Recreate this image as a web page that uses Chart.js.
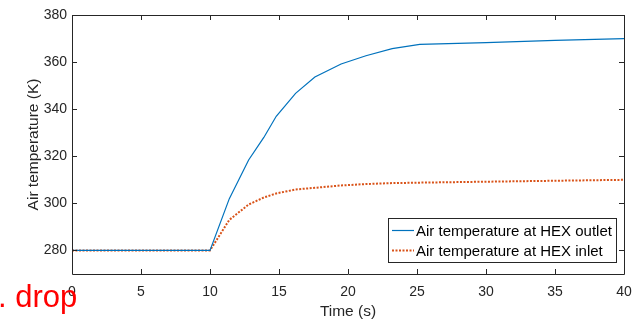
<!DOCTYPE html>
<html>
<head>
<meta charset="utf-8">
<script src="https://cdn.jsdelivr.net/npm/chart.js@4/dist/chart.umd.min.js"></script>
<style>
  body { margin: 0; background: #fff; }
  #wrap { position: relative; width: 639px; height: 321px; overflow: hidden; }
  #note { position: absolute; left: -2px; top: 281px; font: 31px/31px "Liberation Sans", Arial, sans-serif; color: #ff0000; white-space: nowrap; }
</style>
</head>
<body>
<div id="wrap">
  <canvas id="chart" width="639" height="321"></canvas>
  <div id="note">. drop</div>
</div>
<script>
// time points (s)
const timeSec = [0, 10, 11.4, 12.8, 13.9, 14.8, 16.2, 17.6, 19.5, 21.3, 23.2, 25.2, 30, 35, 40];
// air temperature (K)
const outletTemp = [280, 280, 302, 318.4, 328, 337, 346.7, 353.7, 359.2, 362.7, 365.7, 367.5, 368.3, 369.2, 370];
const inletTemp = [280, 280, 293, 299.5, 302.5, 304.2, 305.9, 306.6, 307.6, 308.2, 308.6, 308.8, 309.2, 309.6, 310];
const seriesLabels = ['Air temperature at HEX outlet', 'Air temperature at HEX inlet'];
const xTicks = [0, 5, 10, 15, 20, 25, 30, 35, 40];
const yTicks = [280, 300, 320, 340, 360, 380];

const axisColor = '#262626';
const fontFamily = '"Liberation Sans", Arial, sans-serif';

const toPoints = (xs, ys) => xs.map((x, i) => ({ x: x, y: ys[i] }));

// box around the plot with inward ticks, like MATLAB
const boxPlugin = {
  id: 'box',
  afterDatasetsDraw(chart) {
    const { ctx, chartArea: a, scales } = chart;
    const tl = 5;
    ctx.save();
    ctx.strokeStyle = axisColor;
    ctx.lineWidth = 1;
    ctx.beginPath();
    ctx.rect(a.left + 0.5, a.top + 0.5, a.right - a.left, a.bottom - a.top);
    xTicks.forEach(v => {
      const px = Math.round(scales.x.getPixelForValue(v)) + 0.5;
      ctx.moveTo(px, a.bottom); ctx.lineTo(px, a.bottom - tl);
      ctx.moveTo(px, a.top); ctx.lineTo(px, a.top + tl);
    });
    yTicks.forEach(v => {
      const py = Math.round(scales.y.getPixelForValue(v)) + 0.5;
      ctx.moveTo(a.left, py); ctx.lineTo(a.left + tl, py);
      ctx.moveTo(a.right, py); ctx.lineTo(a.right - tl, py);
    });
    ctx.stroke();
    ctx.restore();
  },
  afterDraw(chart) {
    // legend box in lower right of the plot
    const { ctx, chartArea: a } = chart;
    const w = 228, h = 44;
    const x0 = a.right - 8 - w, y0 = a.bottom - 12 - h;
    ctx.save();
    ctx.fillStyle = '#fff';
    ctx.fillRect(x0, y0, w, h);
    ctx.strokeStyle = '#262626';
    ctx.lineWidth = 1;
    ctx.strokeRect(x0 + 0.5, y0 + 0.5, w, h);
    ctx.font = '15px ' + fontFamily;
    ctx.textBaseline = 'middle';
    chart.data.datasets.forEach((ds, i) => {
      const y = y0 + 12.5 + i * 20;
      ctx.strokeStyle = ds.borderColor;
      ctx.lineWidth = ds.borderWidth;
      ctx.setLineDash(ds.borderDash || []);
      ctx.beginPath();
      ctx.moveTo(x0 + 4, y); ctx.lineTo(x0 + 26, y);
      ctx.stroke();
      ctx.setLineDash([]);
      ctx.fillStyle = '#000';
      ctx.fillText(ds.label, x0 + 28, y + 1);
    });
    ctx.restore();
  }
};

new Chart(document.getElementById('chart'), {
  type: 'line',
  data: {
    datasets: [
      {
        label: seriesLabels[0],
        data: toPoints(timeSec, outletTemp),
        borderColor: '#0072BD',
        borderWidth: 1.2,
        pointRadius: 0,
        tension: 0
      },
      {
        label: seriesLabels[1],
        data: toPoints(timeSec, inletTemp),
        borderColor: '#D95319',
        borderWidth: 2,
        borderDash: [2, 1.5],
        pointRadius: 0,
        tension: 0
      }
    ]
  },
  options: {
    responsive: false,
    animation: false,
    layout: { padding: { top: 15, right: 15, left: 24, bottom: 0 } },
    plugins: { legend: { display: false }, tooltip: { enabled: false } },
    scales: {
      x: {
        type: 'linear',
        min: 0, max: 40,
        afterBuildTicks: s => { s.ticks = xTicks.map(v => ({ value: v })); },
        afterFit: s => { s.height = 47; },
        grid: { display: false },
        border: { display: false },
        ticks: { color: axisColor, font: { size: 14, family: fontFamily }, padding: 2, maxRotation: 0 },
        title: { display: true, text: 'Time (s)', color: axisColor, font: { size: 15.5, family: fontFamily }, padding: { top: 0, bottom: 0 } }
      },
      y: {
        min: 270, max: 380,
        afterBuildTicks: s => { s.ticks = yTicks.map(v => ({ value: v })); },
        afterFit: s => { s.width = 48; },
        grid: { display: false, drawTicks: false },
        border: { display: false },
        ticks: { color: axisColor, font: { size: 14, family: fontFamily }, padding: 5 },
        title: { display: true, text: 'Air temperature (K)', color: axisColor, font: { size: 15.5, family: fontFamily }, padding: { top: 0, bottom: 4 } }
      }
    }
  },
  plugins: [boxPlugin]
});
</script>
</body>
</html>
